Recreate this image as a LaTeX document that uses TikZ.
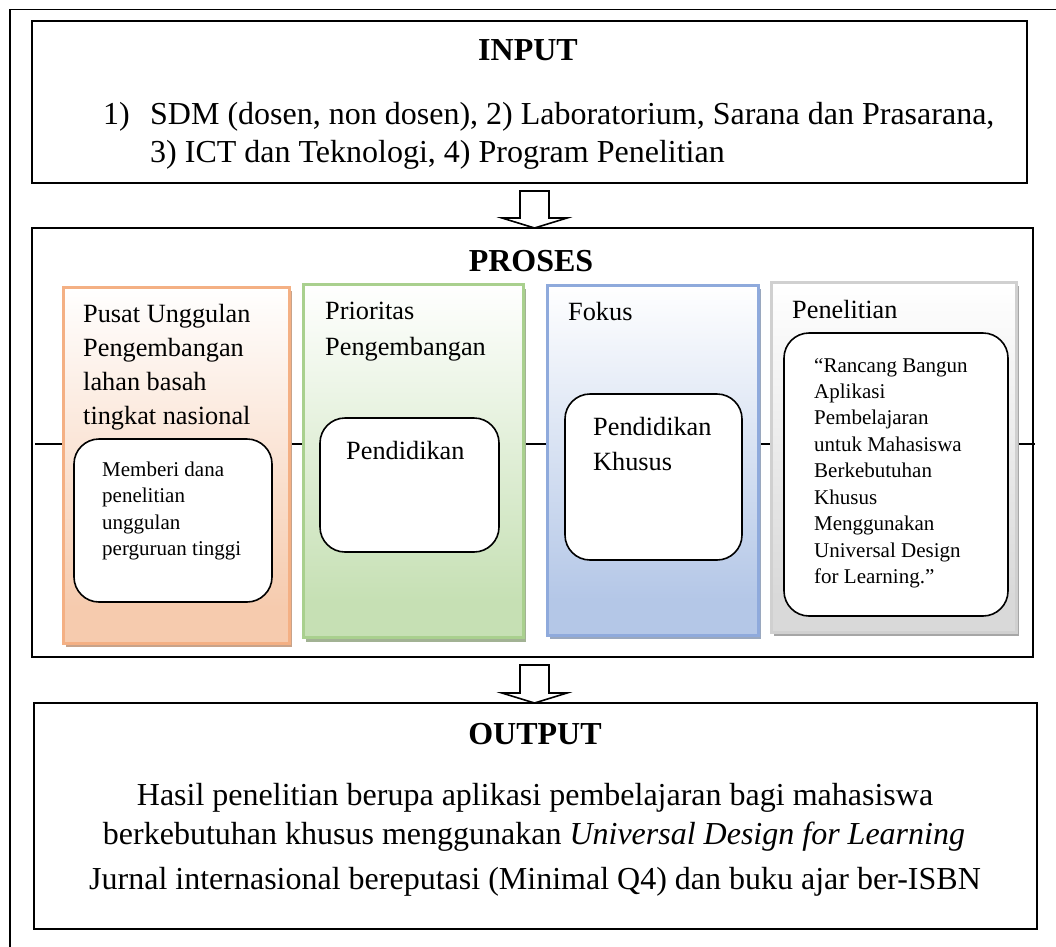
\documentclass[tikz,border=0pt]{standalone}
\usepackage{fontspec}
\setmainfont{Liberation Serif}
\usetikzlibrary{fit,shadows,calc}
\definecolor{orB}{HTML}{F4B084}
\definecolor{orF}{HTML}{F6CBAE}
\definecolor{orS}{HTML}{C8A38A}
\definecolor{grB}{HTML}{A9D08E}
\definecolor{grF}{HTML}{C6E0B4}
\definecolor{grS}{HTML}{A2B294}
\definecolor{blB}{HTML}{8FAADC}
\definecolor{blF}{HTML}{B4C7E7}
\definecolor{blS}{HTML}{9AA8BE}
\definecolor{gyB}{HTML}{D0D0D0}
\definecolor{gyF}{HTML}{D9D9D9}
\definecolor{gyS}{HTML}{A6A6A6}
\pgfdeclareverticalshading{orSh}{100bp}{color(0bp)=(orF); color(30bp)=(orF); color(75bp)=(white); color(100bp)=(white)}
\pgfdeclareverticalshading{grSh}{100bp}{color(0bp)=(grF); color(30bp)=(grF); color(75bp)=(white); color(100bp)=(white)}
\pgfdeclareverticalshading{blSh}{100bp}{color(0bp)=(blF); color(30bp)=(blF); color(75bp)=(white); color(100bp)=(white)}
\pgfdeclareverticalshading{gySh}{100bp}{color(0bp)=(gyF); color(30bp)=(gyF); color(75bp)=(white); color(100bp)=(white)}
\tikzset{
  box/.style={draw=black, line width=2, inner sep=0, outer sep=0},
  colbox/.style={line width=3, inner sep=0, outer sep=0, shade},
  inbox/.style={draw=black, line width=1.6, fill=white, rounded corners=25, inner sep=0, outer sep=0},
  hollow/.style={draw=black, line width=1.6, fill=white, line join=miter},
  bigtxt/.style={inner sep=0, font=\fontsize{32}{38}\selectfont},
  bigbold/.style={inner sep=0, font=\fontsize{32}{38}\selectfont\bfseries},
  midtxt/.style={inner sep=0, font=\fontsize{26.3}{34}\selectfont},
  smalltxt/.style={inner sep=0, font=\fontsize{21}{26.5}\selectfont},
}
\begin{document}
\begin{tikzpicture}[x=1pt,y=-1pt]
\path[use as bounding box] (0,0) rectangle (1056,946);
\clip (0,0) rectangle (1056,946);
% outer frame (cut off at right and bottom)
\draw[line width=1.5] (10,9.5) rectangle (1080,970);
% main boxes
\node[box, fit={(32,21) (1027,183)}] (inp) {};
\node[box, fit={(32,228) (1033,657)}] (pro) {};
\node[box, fit={(34,703) (1037,929)}] (out) {};
% hollow arrows
\coordinate (t1) at (534.5,228);
\coordinate (t2) at (534.5,703);
\draw[hollow] (t1) -- ++(-32.5,-10) -- ++(18,0) -- ++(0,-27) -- ++(29,0) -- ++(0,27) -- ++(18,0) -- cycle;
\draw[hollow] (t2) -- ++(-32.5,-10) -- ++(18,0) -- ++(0,-28) -- ++(29,0) -- ++(0,28) -- ++(18,0) -- cycle;
% horizontal line through the process
\draw[line width=2] ($(pro.west)+(3,1.5)$) -- ($(pro.east)+(2,1.5)$);
% columns
\node[colbox, draw=orB, shading=orSh, drop shadow={shadow xshift=3pt, shadow yshift=-4pt, fill=orS, opacity=1}, fit={(63,287) (289,643)}] (c1) {};
\node[colbox, draw=grB, shading=grSh, drop shadow={shadow xshift=3pt, shadow yshift=-5pt, fill=grS, opacity=1}, fit={(303,284) (523,637)}] (c2) {};
\node[colbox, draw=blB, shading=blSh, drop shadow={shadow xshift=3pt, shadow yshift=-4pt, fill=blS, opacity=1}, fit={(547,285) (758,635)}] (c3) {};
\node[colbox, draw=gyB, shading=gySh, drop shadow={shadow xshift=3pt, shadow yshift=-4pt, fill=gyS, opacity=1}, fit={(771,282) (1016,632)}] (c4) {};
% inner rounded boxes
\node[inbox, fit={(74,439) (272,602)}] (r1) {};
\node[inbox, fit={(320,418) (499,552)}] (r2) {};
\node[inbox, fit={(565,394) (742,560)}] (r3) {};
\node[inbox, fit={(784,333) (1008,616)}] (r4) {};
% INPUT texts
\node[bigbold, anchor=base] (inT) at (528,60) {INPUT};
\node[bigtxt, anchor=base west] (in1a) at (103,124) {1)};
\node[bigtxt, anchor=base west] (in1b) at (150,124) {SDM (dosen, non dosen), 2) Laboratorium, Sarana dan Prasarana,};
\node[bigtxt, anchor=base west] (in2) at (150,162) {3) ICT dan Teknologi, 4) Program Penelitian};
% PROSES title
\node[bigbold, anchor=base] (proT) at (531,271) {PROSES};
% column 1
\node[midtxt, anchor=base west] (c1a) at (83,322) {Pusat Unggulan};
\node[midtxt, anchor=base west] (c1b) at (83,356) {Pengembangan};
\node[midtxt, anchor=base west] (c1c) at (83,390) {lahan basah};
\node[midtxt, anchor=base west] (c1d) at (83,424) {tingkat nasional};
\node[smalltxt, anchor=base west] (r1a) at (102,476) {Memberi dana};
\node[smalltxt, anchor=base west] (r1b) at (102,502.5) {penelitian};
\node[smalltxt, anchor=base west] (r1c) at (102,529) {unggulan};
\node[smalltxt, anchor=base west] (r1d) at (102,555.5) {perguruan tinggi};
% column 2
\node[midtxt, anchor=base west] (c2a) at (325,319) {Prioritas};
\node[midtxt, anchor=base west] (c2b) at (325,355) {Pengembangan};
\node[midtxt, anchor=base west] (r2a) at (346,459) {Pendidikan};
% column 3
\node[midtxt, anchor=base west] (c3a) at (568,320) {Fokus};
\node[midtxt, anchor=base west] (r3a) at (593,435) {Pendidikan};
\node[midtxt, anchor=base west] (r3b) at (593,470) {Khusus};
% column 4
\node[midtxt, anchor=base west] (c4a) at (792,318) {Penelitian};
\node[smalltxt, anchor=base west] (r4a) at (814,372) {“Rancang Bangun};
\node[smalltxt, anchor=base west] (r4b) at (814,398) {Aplikasi};
\node[smalltxt, anchor=base west] (r4c) at (814,424.5) {Pembelajaran};
\node[smalltxt, anchor=base west] (r4d) at (814,451) {untuk Mahasiswa};
\node[smalltxt, anchor=base west] (r4e) at (814,477.5) {Berkebutuhan};
\node[smalltxt, anchor=base west] (r4f) at (814,504) {Khusus};
\node[smalltxt, anchor=base west] (r4g) at (814,530.5) {Menggunakan};
\node[smalltxt, anchor=base west] (r4h) at (814,557) {Universal Design};
\node[smalltxt, anchor=base west] (r4i) at (814,583.5) {for Learning.”};
% OUTPUT texts
\node[bigbold, anchor=base] (outT) at (535,744) {OUTPUT};
\node[bigtxt, anchor=base] (o1) at (535,805) {Hasil penelitian berupa aplikasi pembelajaran bagi mahasiswa};
\node[bigtxt, anchor=base] (o2) at (534,844) {berkebutuhan khusus menggunakan \textit{Universal Design for Learning}};
\node[bigtxt, anchor=base] (o3) at (535,889) {Jurnal internasional bereputasi (Minimal Q4) dan buku ajar ber-ISBN};
\end{tikzpicture}
\end{document}
